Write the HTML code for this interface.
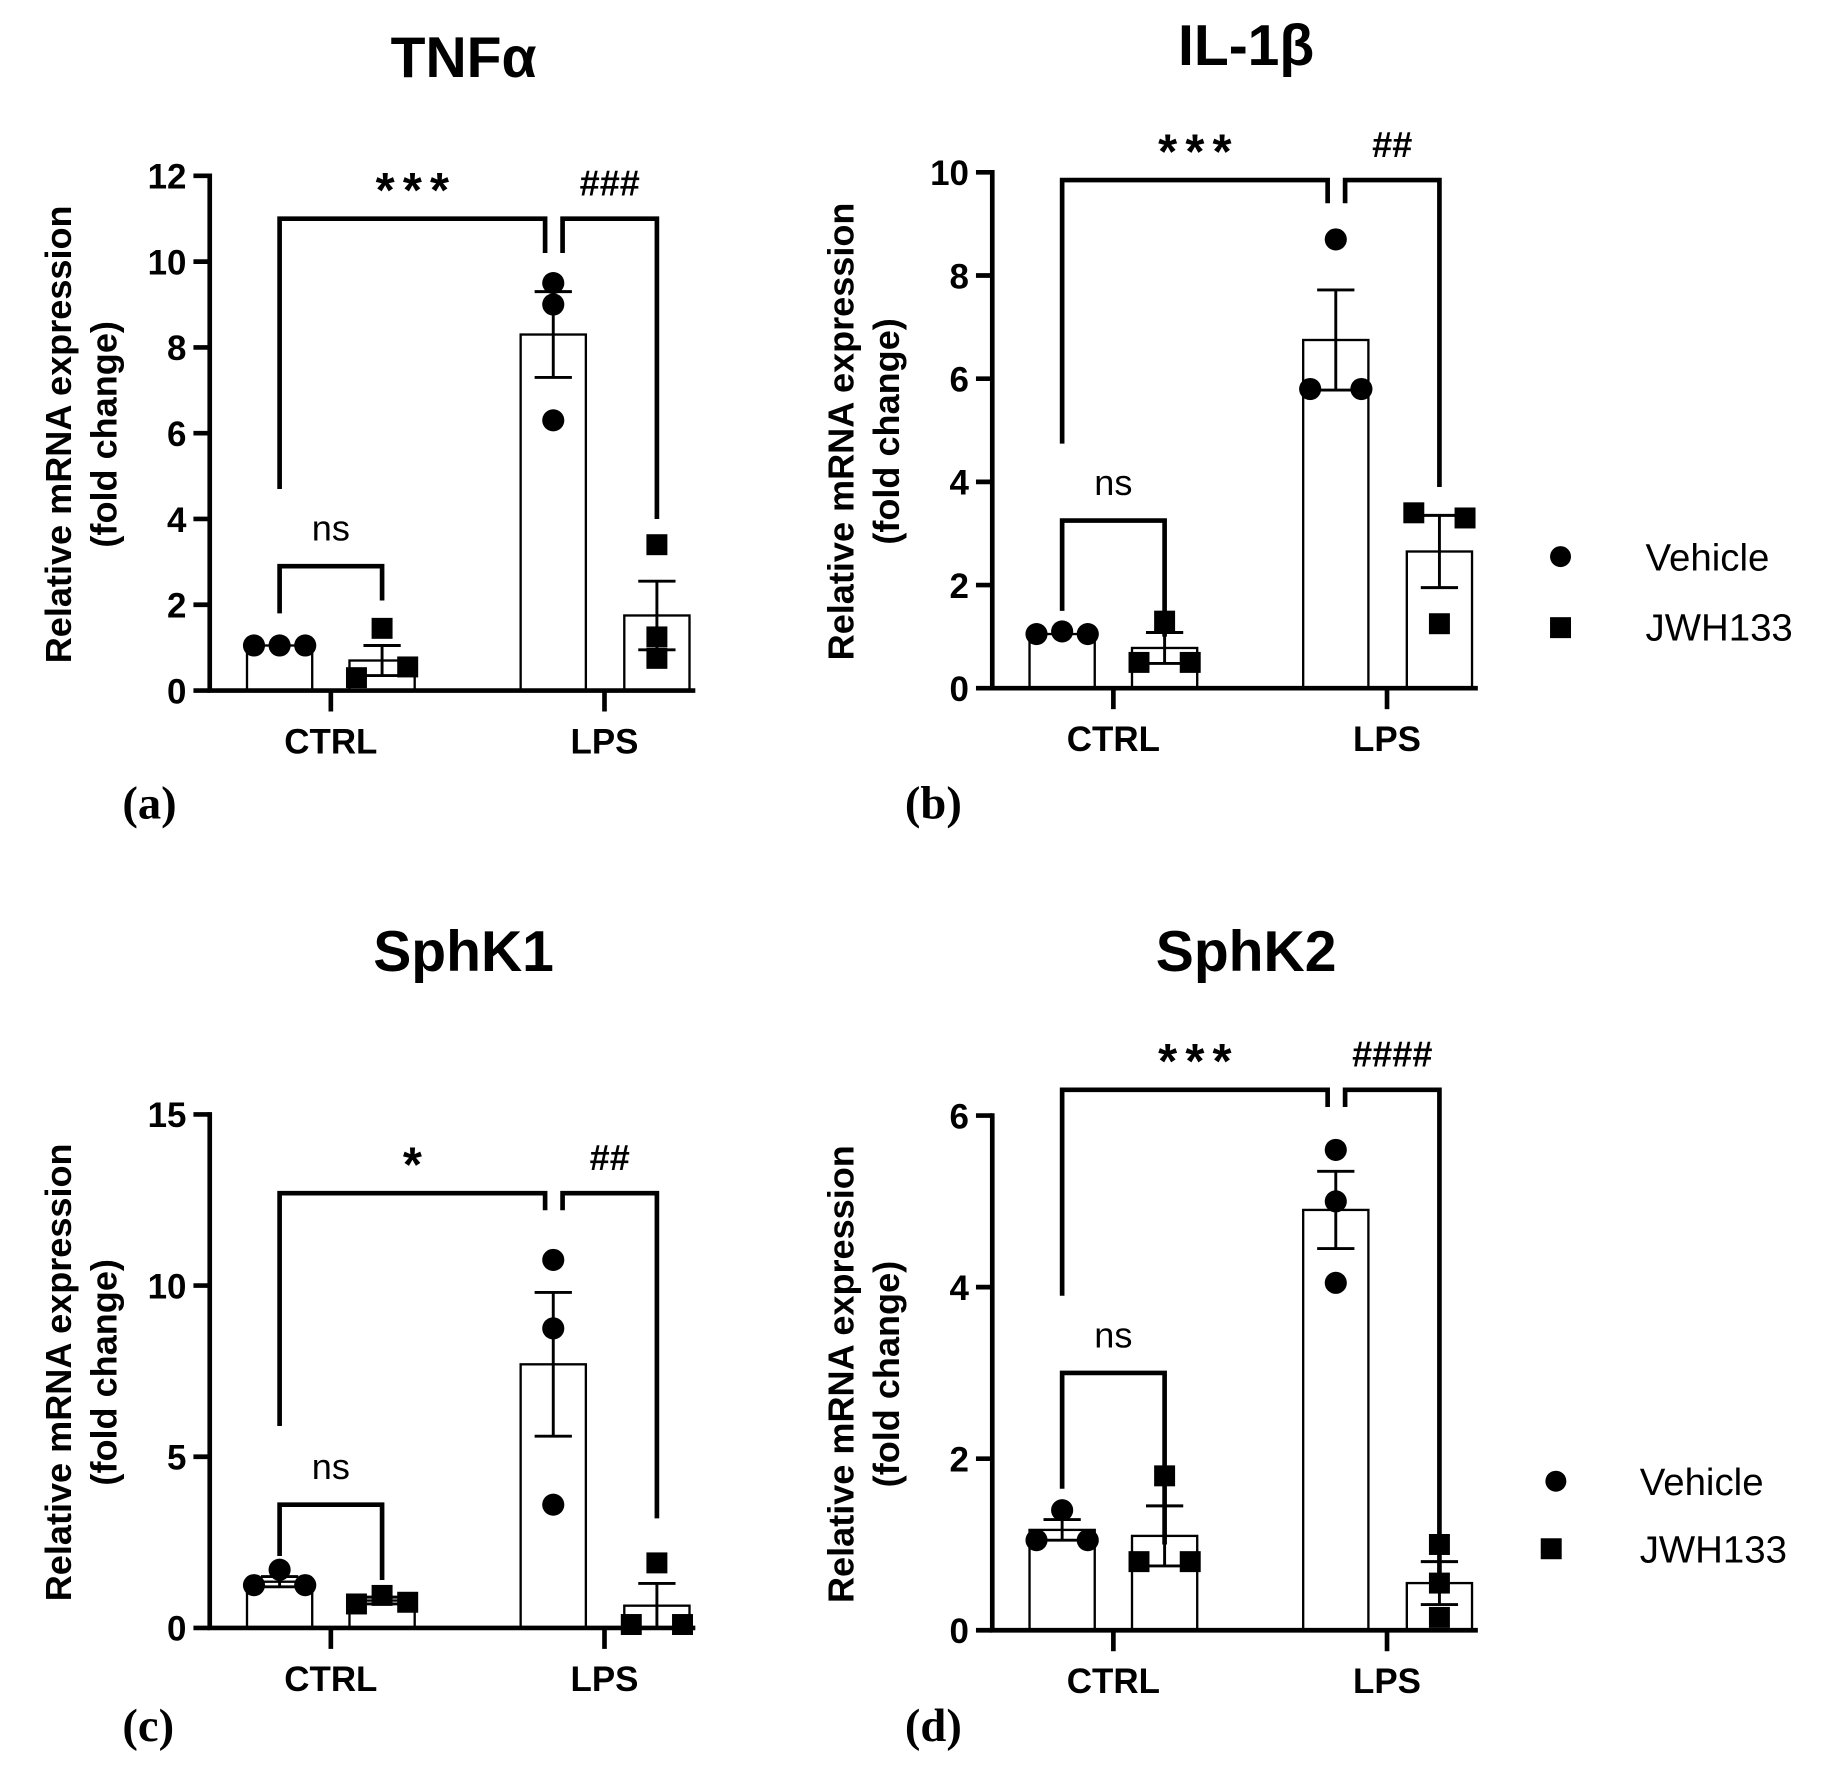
<!DOCTYPE html>
<html><head><meta charset="utf-8"><style>
html,body{margin:0;padding:0;background:#fff;}
svg{display:block;}
.sans{font-family:"Liberation Sans",Arial,sans-serif;}
.serif{font-family:"Liberation Serif","Times New Roman",serif;}
</style></head><body>
<svg id="fig" width="1825" height="1770" viewBox="0 0 1567 1520" xmlns="http://www.w3.org/2000/svg">
<rect width="1567" height="1520" fill="#fff"/>
<g>
<circle cx="1340" cy="478" r="9" fill="#000"/>
<text class="sans" x="1413" y="490" font-size="33">Vehicle</text>
<rect x="1331" y="530" width="18" height="18" fill="#000"/>
<text class="sans" x="1413" y="550" font-size="33">JWH133</text>
</g>
<g>
<circle cx="1336" cy="1272" r="9" fill="#000"/>
<text class="sans" x="1408" y="1284" font-size="33">Vehicle</text>
<rect x="1323" y="1321" width="18" height="18" fill="#000"/>
<text class="sans" x="1408" y="1342" font-size="33">JWH133</text>
</g>
</svg>
<script>
// Panel data: points
const titles = ["TNFα","IL-1β","SphK1","SphK2"];
const panelLabels = ["(a)","(b)","(c)","(d)"];
const categories = ["CTRL","LPS"];
const yMaxes = [12,10,15,6];
const yTickStep = [2,2,5,2];
const ctrlVehPts = [[1.05,1.05,1.05],[1.05,1.1,1.05],[1.25,1.7,1.25],[1.05,1.4,1.05]];
const ctrlJwhPts = [[0.3,1.45,0.55],[0.5,1.3,0.5],[0.7,0.95,0.75],[0.8,1.8,0.8]];
const lpsVehPts = [[9.0,9.5,6.3],[5.8,8.7,5.8],[10.75,8.75,3.6],[5.0,5.6,4.05]];
const lpsJwhPts = [[0.75,3.4,1.25],[3.4,1.25,3.3],[0.1,1.9,0.1],[0.15,1.0,0.55]];
const barMeans = [[1.05,0.7,8.3,1.75],[1.05,0.78,6.75,2.65],[1.35,0.8,7.7,0.65],[1.17,1.1,4.9,0.55]];
const barSems = [[0,0.35,1.0,0.8],[0,0.3,0.97,0.7],[0.15,0.1,2.1,0.65],[0.12,0.35,0.45,0.25]];
// bracket values: [nsTop, nsLeftLeg, nsRightLeg, bigTop, bigLeftLeg, bigRightLeg, hashRightLeg]
const brackets = [[2.9,1.8,2.1,11.0,4.7,10.2,4.0],[3.25,1.5,1.0,9.85,4.74,9.4,3.9],[3.6,2.1,1.4,12.7,5.9,12.2,3.2],[3.0,1.65,1.0,6.3,3.9,6.1,0.6]];
const bigLabels = ["***","***","*","***"];
const hashLabels = ["###","##","##","####"];
// per group scatter mode: 1 = spread horizontally, 0 = stacked at center
const spreadMode = [[1,1,0,0],[1,1,1,1],[1,1,0,1],[1,1,0,0]];

const NS='http://www.w3.org/2000/svg';
const svg=document.getElementById('fig');
function mk(tag,attrs,parent){const e=document.createElementNS(NS,tag);for(const k in attrs)e.setAttribute(k,attrs[k]);(parent||svg).appendChild(e);return e;}
const layouts=[{ax:180,y0:593,yTop:151,dx:0,ty:50,py:690},{ax:852,y0:591,yTop:148,dx:672,ty:40,py:690},{ax:180,y0:1398,yTop:957,dx:0,ty:818,py:1482},{ax:852,y0:1400,yTop:958,dx:672,ty:818,py:1482}];
const barCenters=[240,328,475,564];
const catCenters=[284,519];
for(let p=0;p<4;p++){
 const L=layouts[p];
 const g=mk('g',{class:'sans'});
 
 
 const Y=v=>L.y0-(v/yMaxes[p])*(L.y0-L.yTop);
 const X=i=>barCenters[i]+L.dx;
 const t=mk('text',{x:398+L.dx,y:L.ty+16,'font-size':49,'font-weight':'bold','text-anchor':'middle'},g);t.textContent=titles[p];
 
 
 const pl=mk('text',{class:'serif',x:105+L.dx,y:L.py+13,'font-size':40,'font-weight':'bold'},g);pl.textContent=panelLabels[p];
 
 
 const yl=mk('text',{transform:`translate(${61+L.dx},${(L.y0+L.yTop)/2+1}) rotate(-90)`,'font-size':31,'font-weight':'bold','text-anchor':'middle'},g);
 
 
 const t1=mk('tspan',{x:0,y:0},yl);t1.textContent='Relative mRNA expression';
 const t2=mk('tspan',{x:0,y:39},yl);t2.textContent='(fold change)';
 for(let i=0;i<4;i++){
  const m=barMeans[p][i],s=barSems[p][i];
  const b=mk('rect',{x:X(i)-28,y:Y(m),width:56,height:L.y0-Y(m),fill:'#fff',stroke:'#000','stroke-width':2},g);
  
  
  if(s>0){
   const e=mk('path',{d:`M${X(i)},${Y(m-s)}V${Y(m+s)}M${X(i)-16},${Y(m+s)}H${X(i)+16}M${X(i)-16},${Y(m-s)}H${X(i)+16}`,stroke:'#000','stroke-width':2.5,fill:'none'},g);
   
   
  }
 }
 const sets=[ctrlVehPts[p],ctrlJwhPts[p],lpsVehPts[p],lpsJwhPts[p]];
 const offs=[-22,0,22];
 sets.forEach((pts,i)=>{pts.forEach((v,k)=>{
  const ox=spreadMode[p][i]?offs[k]:0;
  let el;
  if(i%2===0) el=mk('circle',{cx:X(i)+ox,cy:Y(v),r:9.5,fill:'#000'},g);
  else el=mk('rect',{x:X(i)+ox-9,y:Y(v)-9,width:18,height:18,fill:'#000'},g);
  
  
 });});
 const ax=mk('path',{d:`M${L.ax},${L.yTop-2}V${L.y0}H${L.ax+417}`,stroke:'#000','stroke-width':4,fill:'none'},g);
 
 
 for(let v=0;v<=yMaxes[p];v+=yTickStep[p]){
  mk('line',{x1:L.ax-14,x2:L.ax,y1:Y(v),y2:Y(v),stroke:'#000','stroke-width':4},g);
  const tl=mk('text',{x:L.ax-20,y:Y(v)+11,'font-size':30,'font-weight':'bold','text-anchor':'end'},g);tl.textContent=v;
  
  
 }
 categories.forEach((c,i)=>{
  const cx=catCenters[i]+L.dx;
  mk('line',{x1:cx,x2:cx,y1:L.y0,y2:L.y0+18,stroke:'#000','stroke-width':4},g);
  const ct=mk('text',{x:cx,y:L.y0+54,'font-size':30,'font-weight':'bold','text-anchor':'middle'},g);ct.textContent=c;
  
  
 });
 const br=brackets[p];
 const b1=mk('path',{d:`M${X(0)},${Y(br[1])}V${Y(br[0])}H${X(1)}V${Y(br[2])}`,stroke:'#000','stroke-width':4,fill:'none'},g);
 
 
 const nt=mk('text',{x:(X(0)+X(1))/2,y:Y(br[0])-22,'font-size':31,'text-anchor':'middle'},g);nt.textContent='ns';
 
 
 const b2=mk('path',{d:`M${X(0)},${Y(br[4])}V${Y(br[3])}H${X(2)-7}V${Y(br[5])}`,stroke:'#000','stroke-width':4,fill:'none'},g);
 
 
 const st=mk('text',{x:(X(0)+X(2))/2,y:Y(br[3])-10,'font-size':42,'font-weight':'bold','text-anchor':'middle','letter-spacing':7},g);st.textContent=bigLabels[p];
 
 
 const b3=mk('path',{d:`M${X(2)+8},${Y(br[5])}V${Y(br[3])}H${X(3)}V${Y(br[6])}`,stroke:'#000','stroke-width':4,fill:'none'},g);
 
 
 const ht=mk('text',{x:(X(2)+X(3))/2+4,y:Y(br[3])-20,'font-size':31,'font-weight':'bold','text-anchor':'middle'},g);ht.textContent=hashLabels[p];
 
 
}
</script>
</body></html>
